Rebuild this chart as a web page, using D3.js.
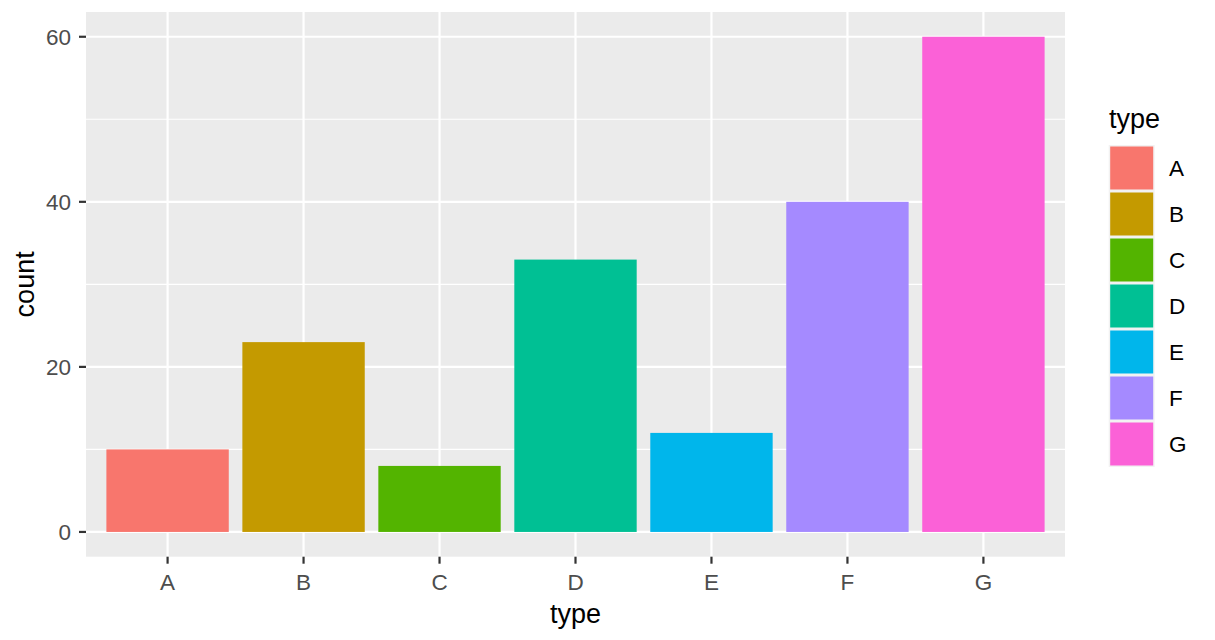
<!DOCTYPE html>
<html><head><meta charset="utf-8">
<script src="https://cdn.jsdelivr.net/npm/d3@7"></script>
<style>body{margin:0;background:#fff;} text{font-family:"Liberation Sans",Arial,sans-serif;}</style>
</head><body>
<svg id="c" width="1215" height="640"></svg>
<script>
const categories = ["A","B","C","D","E","F","G"];
const counts = [10,23,8,33,12,40,60];
const colors = ["#F8766D","#C49A00","#53B400","#00C094","#00B6EB","#A58AFF","#FB61D7"];
const yTicks = [0,20,40,60];
const yMinor = [10,30,50];

const svg = d3.select("#c");
const P = {l:86, r:1065, t:12, b:556.7};
// ggplot: discrete expansion 0.6 units, bar width 0.9
const step = (P.r - P.l) / 7.2;
const x = d3.scalePoint().domain(categories).range([P.l + 0.6*step, P.r - 0.6*step]);
const cx = c => x(c);
const y = d3.scaleLinear().domain([-3, 63]).range([P.b, P.t]);

svg.append("rect").attr("x",P.l).attr("y",P.t).attr("width",P.r-P.l).attr("height",P.b-P.t).attr("fill","#EBEBEB");
const g = svg.append("g");
yMinor.forEach(v => g.append("line").attr("x1",P.l).attr("x2",P.r).attr("y1",y(v)).attr("y2",y(v)).attr("stroke","#fff").attr("stroke-width",1.1));
yTicks.forEach(v => g.append("line").attr("x1",P.l).attr("x2",P.r).attr("y1",y(v)).attr("y2",y(v)).attr("stroke","#fff").attr("stroke-width",2.2));
categories.forEach(c => g.append("line").attr("x1",cx(c)).attr("x2",cx(c)).attr("y1",P.t).attr("y2",P.b).attr("stroke","#fff").attr("stroke-width",2.2));

svg.append("g").selectAll("rect").data(categories).join("rect")
  .attr("x", c => cx(c) - step*0.45).attr("width", step*0.9)
  .attr("y", (c,i) => y(counts[i])).attr("height", (c,i) => y(0) - y(counts[i]))
  .attr("fill", (c,i) => colors[i]);

// y axis
const ya = svg.append("g");
yTicks.forEach(v => {
  ya.append("line").attr("x1",P.l-7).attr("x2",P.l).attr("y1",y(v)).attr("y2",y(v)).attr("stroke","#333").attr("stroke-width",2.2);
  ya.append("text").attr("x",P.l-15).attr("y",y(v)).attr("dy","0.36em").attr("text-anchor","end").attr("font-size",22.5).attr("fill","#4D4D4D").text(v);
});
// x axis
const xa = svg.append("g");
categories.forEach(c => {
  xa.append("line").attr("x1",cx(c)).attr("x2",cx(c)).attr("y1",P.b).attr("y2",P.b+7).attr("stroke","#333").attr("stroke-width",2.2);
  xa.append("text").attr("x",cx(c)).attr("y",590).attr("text-anchor","middle").attr("font-size",22.5).attr("fill","#4D4D4D").text(c);
});
svg.append("text").attr("x",(P.l+P.r)/2).attr("y",622.5).attr("text-anchor","middle").attr("font-size",27).attr("fill","#000").text("type");
svg.append("text").attr("transform",`translate(34,${(P.t+P.b)/2}) rotate(-90)`).attr("text-anchor","middle").attr("font-size",27).attr("fill","#000").text("count");

// legend
const lg = svg.append("g");
lg.append("text").attr("x",1109).attr("y",127.5).attr("font-size",27).attr("fill","#000").text("type");
const kTop = 145, kH = 46, kX = 1108.7, kW = 46;
categories.forEach((c,i) => {
  lg.append("rect").attr("x",kX).attr("y",kTop+i*kH).attr("width",kW).attr("height",kH).attr("fill","#F2F2F2");
  lg.append("rect").attr("x",kX+1.5).attr("y",kTop+i*kH+1.5).attr("width",kW-3).attr("height",kH-3).attr("fill",colors[i]);
  lg.append("text").attr("x",1169).attr("y",kTop+i*kH+kH/2).attr("dy","0.36em").attr("font-size",22.5).attr("fill","#000").text(c);
});
</script>
</body></html>
